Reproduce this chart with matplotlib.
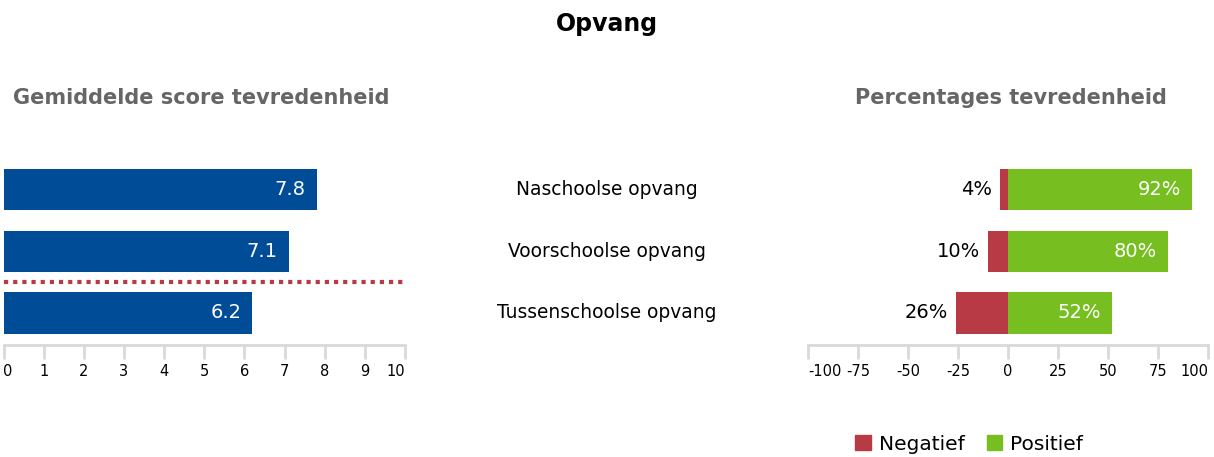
import matplotlib.pyplot as plt
from matplotlib.patches import Patch
from matplotlib.transforms import blended_transform_factory

plt.rcParams["axes.unicode_minus"] = False

categories = ["Naschoolse opvang", "Voorschoolse opvang", "Tussenschoolse opvang"]
scores = [7.8, 7.1, 6.2]
negatief = [4, 10, 26]
positief = [92, 80, 52]
score_ticks = list(range(0, 11))
pct_ticks = [-100, -75, -50, -25, 0, 25, 50, 75, 100]

BLUE = "#004C97"
RED = "#B83A45"
GREEN = "#77BE21"
GREY_TXT = "#666666"
TICK_GREY = "#d9d9d9"

W, H = 1214, 457
fig = plt.figure(figsize=(W / 100, H / 100), dpi=100)


def fx(px):
    return px / W


def fy(py):
    return 1 - py / H


def style_axis(ax, ticks):
    for s in ["left", "right", "top"]:
        ax.spines[s].set_visible(False)
    ax.spines["bottom"].set_color(TICK_GREY)
    ax.spines["bottom"].set_linewidth(2)
    ax.set_xticks(ticks)
    ax.tick_params(axis="x", length=10, width=2, color=TICK_GREY,
                   labelsize=10.5, pad=4, labelcolor="black")
    labels = ax.get_xticklabels()
    labels[0].set_horizontalalignment("left")
    labels[-1].set_horizontalalignment("right")
    ax.set_yticks([])
    ax.set_ylim(2.52, -0.5)


ypos = list(range(len(categories)))
bar_h = 0.67

# left panel: average scores
ax1 = fig.add_axes([fx(3.5), fy(345), fx(401.5), fy(159) - fy(345)])
ax1.barh(ypos, scores, height=bar_h, color=BLUE)
for y, v in zip(ypos, scores):
    ax1.annotate(f"{v:.1f}", (v, y), xytext=(-8, 0), textcoords="offset points",
                 ha="right", va="center", color="white", fontsize=14)
ax1.plot([0, 10], [1.5, 1.5], color=RED, linewidth=3, linestyle=(0, (1, 1.2)),
         clip_on=False)
ax1.set_xlim(0, 10)
style_axis(ax1, score_ticks)

# right panel: percentages
ax2 = fig.add_axes([fx(808), fy(345), fx(400), fy(159) - fy(345)])
ax2.barh(ypos, [-n for n in negatief], height=bar_h, color=RED)
ax2.barh(ypos, positief, height=bar_h, color=GREEN)
for y, n, p in zip(ypos, negatief, positief):
    ax2.annotate(f"{n}%", (-n, y), xytext=(-6, 0), textcoords="offset points",
                 ha="right", va="center", color="black", fontsize=14)
    ax2.annotate(f"{p}%", (p, y), xytext=(-8, 0), textcoords="offset points",
                 ha="right", va="center", color="white", fontsize=14)
ax2.set_xlim(-100, 100)
style_axis(ax2, pct_ticks)

# category labels in the middle
tr = blended_transform_factory(fig.transFigure, ax1.transData)
for y, c in zip(ypos, categories):
    ax1.text(fx(607), y, c, transform=tr, ha="center", va="center",
             fontsize=13.4, clip_on=False)

fig.text(fx(607), fy(24), "Opvang", ha="center", va="center",
         fontsize=17, fontweight="bold")
fig.text(fx(201), fy(98), "Gemiddelde score tevredenheid", ha="center",
         va="center", fontsize=15, fontweight="bold", color=GREY_TXT)
fig.text(fx(1011), fy(98), "Percentages tevredenheid", ha="center",
         va="center", fontsize=15, fontweight="bold", color=GREY_TXT)

handles = [Patch(color=RED, label="Negatief"), Patch(color=GREEN, label="Positief")]
fig.legend(handles=handles, loc="center", bbox_to_anchor=(fx(969), fy(444)),
           ncol=2, frameon=False, fontsize=14.5, handlelength=0.75,
           handleheight=0.75, handletextpad=0.4, columnspacing=1.1)

fig.savefig("out.png", dpi=100)
